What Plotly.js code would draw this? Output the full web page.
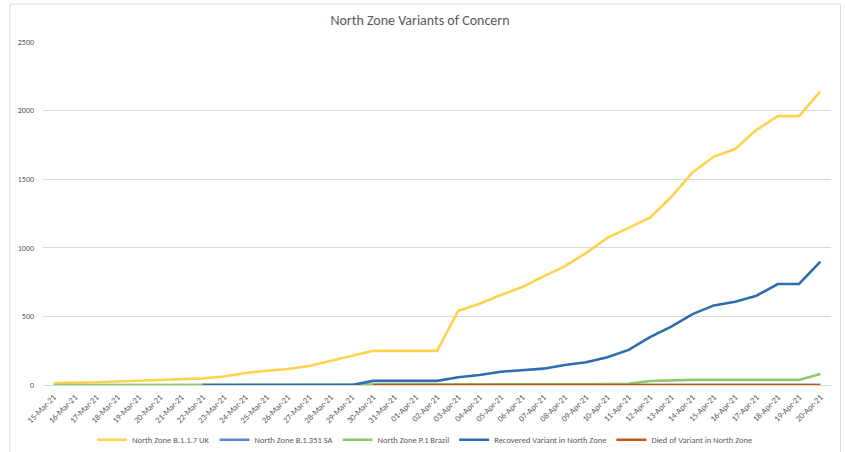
<!DOCTYPE html>
<html>
<head>
<meta charset="utf-8">
<script src="https://cdn.plot.ly/plotly-3.0.1.min.js"></script>
<style>html,body{margin:0;padding:0;background:#fff;}#chart{width:845px;height:452px;}</style>
</head>
<body>
<div id="chart"></div>
<script>
var dates = ["15-Mar-21","16-Mar-21","17-Mar-21","18-Mar-21","19-Mar-21","20-Mar-21","21-Mar-21","22-Mar-21","23-Mar-21","24-Mar-21","25-Mar-21","26-Mar-21","27-Mar-21","28-Mar-21","29-Mar-21","30-Mar-21","31-Mar-21","01-Apr-21","02-Apr-21","03-Apr-21","04-Apr-21","05-Apr-21","06-Apr-21","07-Apr-21","08-Apr-21","09-Apr-21","10-Apr-21","11-Apr-21","12-Apr-21","13-Apr-21","14-Apr-21","15-Apr-21","16-Apr-21","17-Apr-21","18-Apr-21","19-Apr-21","20-Apr-21"];

var ukB117 = [15,15,20,25,30,35,40,48,62,87,104,116,138,174,215,249,249,249,249,541,592,656,714,792,865,963,1072,1145,1220,1370,1550,1665,1720,1860,1960,1960,2140];
var saB1351 = [null,null,null,null,null,null,null,0,0,0,0,0,0,0,0,0,0,0,0,0,0,0,0,0,0,0,0,0,0,0,0,0,0,0,0,0,0];
var brazilP1 = [0,0,0,0,0,0,0,0,0,0,0,0,0,0,0,0,0,0,0,1,2,3,3,4,5,6,7,8,29,34,37,37,37,37,37,37,80];
var recovered = [null,null,null,null,null,null,null,0,0,0,0,0,0,0,0,30,30,30,30,56,73,97,110,119,146,166,202,256,349,426,517,580,607,651,736,736,899];
var died = [null,null,null,null,null,null,null,null,null,null,null,null,null,null,null,0,0,0,0,0,0,0,0,0,0,0,0,0,0,0,0,0,0,0,0,0,0];

var seriesNames = ["North Zone B.1.1.7 UK","North Zone B.1.351 SA","North Zone P.1 Brazil","Recovered Variant in North Zone","Died of Variant in North Zone"];
var colors = ["#FFD34D","#5B87D3","#8DC96A","#2E6DAE","#C5561A"];
var values = [ukB117, saB1351, brazilP1, recovered, died];

var traces = values.map(function(v,i){
  return {x: dates, y: v, name: seriesNames[i], type: 'scatter', mode: 'lines',
          line: {color: colors[i], width: 2.6}, connectgaps: false};
});

var font = 'Carlito, "Liberation Sans Narrow", "Liberation Sans", sans-serif';
var layout = {
  width: 845, height: 452,
  margin: {l: 43, r: 14, t: 42, b: 67},
  paper_bgcolor: '#fff', plot_bgcolor: '#fff',
  font: {family: font, color: '#595959', size: 8},
  title: {text: 'North Zone Variants of Concern', x: 0.497, xanchor: 'center', y: 0.955, yanchor: 'middle',
          font: {family: font, size: 14, color: '#595959'}},
  xaxis: {type: 'category', tickangle: -45, tickfont: {size: 8.5, color: '#595959'}, automargin: false,
          ticklabelstandoff: 3,
          showgrid: false, showline: true, linecolor: '#D9D9D9', linewidth: 1, ticks: '', zeroline: false,
          range: [-0.5, 36.5], fixedrange: true},
  yaxis: {range: [0, 2500], dtick: 500, tickformat: 'd', showgrid: true, gridcolor: '#D9D9D9', gridwidth: 1, automargin: false,
          zeroline: false, showline: false, ticks: '', ticklabelstandoff: 8, tickfont: {size: 8, color: '#595959'}, fixedrange: true},
  showlegend: true,
  legend: {orientation: 'h', xref: 'container', yref: 'container', x: 0.503, xanchor: 'center', y: 0.027, yanchor: 'middle',
           font: {size: 8.5, color: '#595959'}, traceorder: 'normal', itemwidth: 30},
  shapes: [{type: 'rect', xref: 'paper', yref: 'paper', x0: -0.042, x1: 1.012, y0: -0.2, y1: 1.1105,
            line: {color: '#D9D9D9', width: 1}, fillcolor: 'rgba(0,0,0,0)', layer: 'below'}]
};

Plotly.newPlot('chart', traces, layout, {displayModeBar: false, staticPlot: true});
</script>
</body>
</html>
